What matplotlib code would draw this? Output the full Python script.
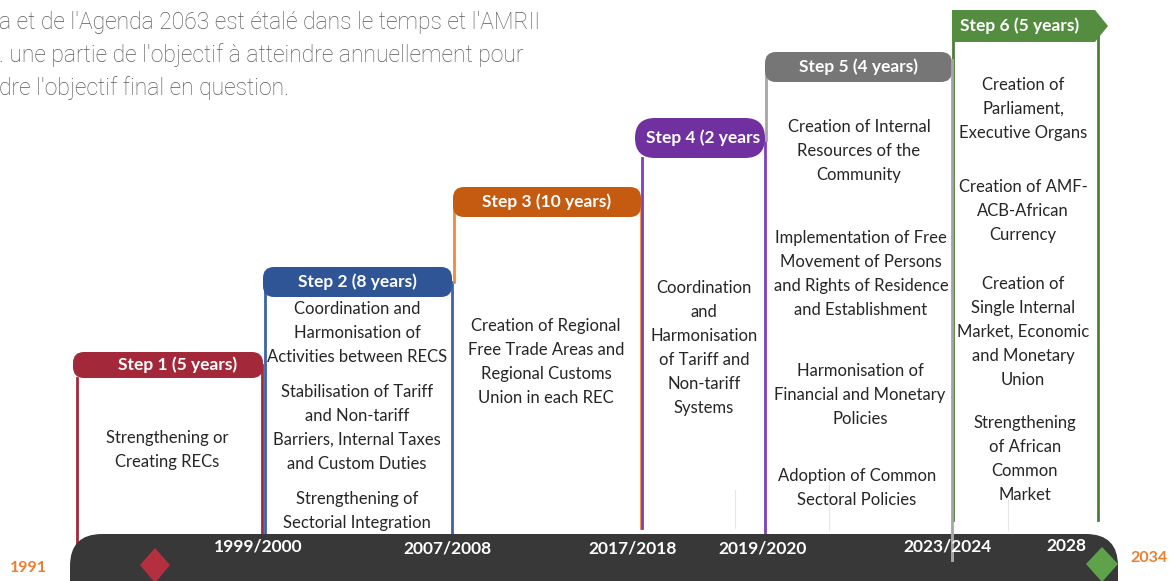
import matplotlib.pyplot as plt
from matplotlib.patches import FancyBboxPatch, Polygon

# --- content ---
intro_lines = [
    "a et de l'Agenda 2063 est étalé dans le temps et l'AMRII",
    ". une partie de l'objectif à atteindre annuellement pour",
    "dre l'objectif final en question.",
]
step_titles = ["Step 1 (5 years)", "Step 2 (8 years)", "Step 3 (10 years)",
               "Step 4 (2 years", "Step 5 (4 years)", "Step 6 (5 years)"]
step_texts = [
    ["Strengthening or\nCreating RECs"],
    ["Coordination and\nHarmonisation of\nActivities between RECS",
     "Stabilisation of Tariff\nand Non-tariff\nBarriers, Internal Taxes\nand Custom Duties",
     "Strengthening of\nSectorial Integration"],
    ["Creation of Regional\nFree Trade Areas and\nRegional Customs\nUnion in each REC"],
    ["Coordination\nand\nHarmonisation\nof Tariff and\nNon-tariff\nSystems"],
    ["Creation of Internal\nResources of the\nCommunity",
     "Implementation of Free\nMovement of Persons\nand Rights of Residence\nand Establishment",
     "Harmonisation of\nFinancial and Monetary\nPolicies",
     "Adoption of Common\nSectoral Policies"],
    ["Creation of\nParliament,\nExecutive Organs",
     "Creation of AMF-\nACB-African\nCurrency",
     "Creation of\nSingle Internal\nMarket, Economic\nand Monetary\nUnion",
     "Strengthening\nof African\nCommon\nMarket"],
]
year_labels = ["1999/2000", "2007/2008", "2017/2018", "2019/2020", "2023/2024", "2028"]
start_year = "1991"
end_year = "2034"

# --- layout (pixel coordinates) ---
head_col = ["#a3293a", "#2f5597", "#c55a11", "#7030a0", "#767676", "#548d3f"]
line_col = ["#a3293a", "#3d62a8", "#f08a3c", "#7f3fbf", "#a6a6a6", "#4e7d3a"]
head_box = [(73, 263, 352, 378), (263, 452, 267, 297), (453, 641, 187, 217),
            (635, 765, 118, 158), (765, 952, 52, 82), (952, 1108, 10, 42)]
left_line = [(77, 378, 545), (265, 282, 535), (454, 200, 282), (642, 158, 528),
             (766, 70, 140), (953, 25, 520)]
right_line = [(262, 365, 535), (452, 282, 535), (641, 210, 528), (765, 140, 535),
              (952, 60, 560), (1098, 30, 520)]
text_x = [[167], [357, 357, 357], [546], [704], [859, 861, 860, 857], [1023, 1023, 1023, 1025]]
text_y = [[450], [333, 428, 511], [362], [348], [151, 274, 395, 488], [109, 211, 332, 459]]
year_x = [258, 447, 633, 763, 948, 1066]
year_y = [546, 548, 549, 548, 547, 546]

body_font = "Lato"
orange = "#ed7d31"

fig = plt.figure(figsize=(11.69, 5.81), dpi=100)
ax = fig.add_axes([0, 0, 1, 1])
ax.set_xlim(0, 1169)
ax.set_ylim(581, 0)
ax.axis("off")

# intro paragraph
for i, line in enumerate(intro_lines):
    ax.text(-1, 22 + i * 33, line, fontsize=16.5, family="Roboto", fontweight="light",
            color="#595959", va="center", ha="left")

# faint guide lines
for gx, y0, y1 in [(735, 490, 528), (829, 470, 530), (1008, 500, 530)]:
    ax.plot([gx, gx], [y0, y1], color="#e6e6e6", lw=0.8, zorder=1)

# vertical step lines
for i in range(6):
    lx, ly0, ly1 = left_line[i]
    rx, ry0, ry1 = right_line[i]
    ax.plot([lx, lx], [ly0, ly1], color=line_col[i], lw=2, zorder=2)
    ax.plot([rx, rx], [ry0, ry1], color=line_col[i], lw=2, zorder=2 if i != 4 else 6)

# timeline bar
bar = FancyBboxPatch((70, 534), 1048, 80, boxstyle="round,pad=0,rounding_size=32",
                     facecolor="#383838", edgecolor="none", zorder=4)
ax.add_patch(bar)
ax.plot([952, 952], [534, 560], color=line_col[4], lw=2, zorder=6)

# diamonds
ax.add_patch(Polygon([(155, 548), (170, 565), (155, 583), (140, 565)],
                     closed=True, facecolor="#b5303f", edgecolor="none", zorder=5))
ax.add_patch(Polygon([(1102, 547), (1118, 564), (1102, 582), (1086, 564)],
                     closed=True, facecolor="#5ea34a", edgecolor="none", zorder=5))

for lbl, x, y in zip(year_labels, year_x, year_y):
    ax.text(x, y, lbl, fontsize=12.5, family=body_font, fontweight="bold",
            color="white", ha="center", va="center", zorder=7)
ax.text(28, 568, start_year, fontsize=11.5, family=body_font, fontweight="bold",
        color=orange, ha="center", va="center")
ax.text(1149, 558, end_year, fontsize=11.5, family=body_font, fontweight="bold",
        color=orange, ha="center", va="center")

# step headers
for i, title in enumerate(step_titles):
    x0, x1, y0, y1 = head_box[i]
    if i == 5:
        ax.add_patch(Polygon([(x0, y0), (x1 - 13, y0), (x1, (y0 + y1) / 2),
                              (x1 - 13, y1), (x0, y1)], closed=True,
                             facecolor=head_col[i], edgecolor="none", zorder=5))
        tx, ha = x0 + 8, "left"
    else:
        r = (y1 - y0) / 2 if i == 3 else 11
        ax.add_patch(FancyBboxPatch((x0, y0), x1 - x0, y1 - y0,
                                    boxstyle=f"round,pad=0,rounding_size={r}",
                                    facecolor=head_col[i], edgecolor="none", zorder=5))
        tx, ha = ((x0 + x1) / 2 + (10 if i == 0 else 0)), "center"
        if i == 3:
            tx, ha = x0 + 11, "left"
    ax.text(tx, (y0 + y1) / 2, title, fontsize=12.5, family=body_font, fontweight="bold",
            color="white", ha=ha, va="center", zorder=6)

# step body texts
for i in range(6):
    for txt, x, y in zip(step_texts[i], text_x[i], text_y[i]):
        ax.text(x, y, txt, fontsize=12, family=body_font, color="#262626",
                ha="center", va="center", linespacing=1.62, zorder=3)

fig.savefig("out.png", dpi=100)
